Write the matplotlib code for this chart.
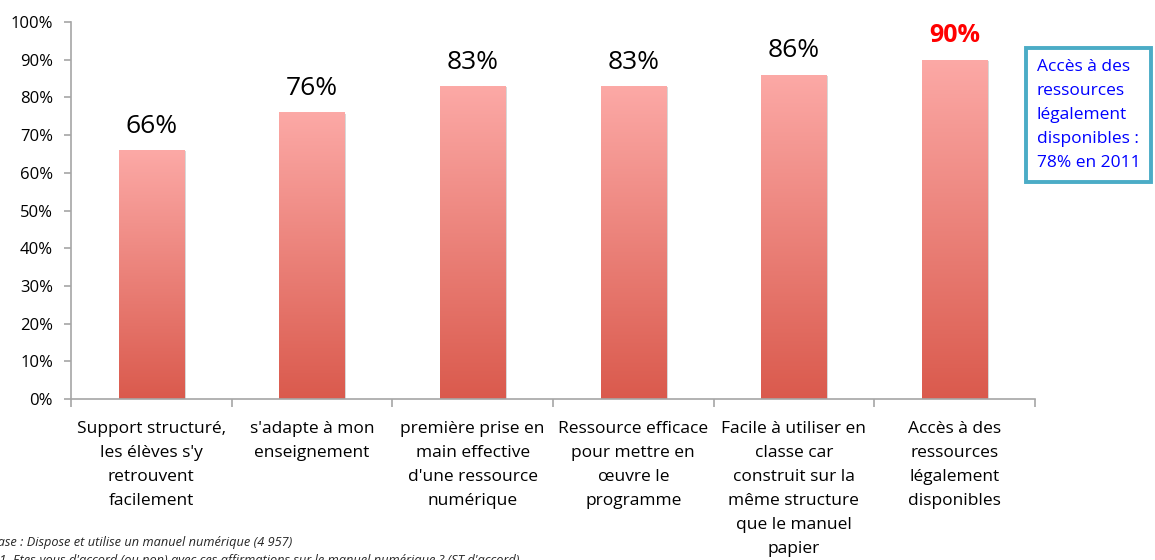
import matplotlib.pyplot as plt
import numpy as np
from matplotlib.colors import LinearSegmentedColormap

plt.rcParams['font.family'] = ['Open Sans', 'DejaVu Sans']

categories = ["Support structuré,\nles élèves s'y\nretrouvent\nfacilement",
              "s'adapte à mon\nenseignement",
              "première prise en\nmain effective\nd'une ressource\nnumérique",
              "Ressource efficace\npour mettre en\nœuvre le\nprogramme",
              "Facile à utiliser en\nclasse car\nconstruit sur la\nmême structure\nque le manuel\npapier",
              "Accès à des\nressources\nlégalement\ndisponibles"]
values = [66, 76, 83, 83, 86, 90]
yticks = [0, 10, 20, 30, 40, 50, 60, 70, 80, 90, 100]

fig = plt.figure(figsize=(11.55, 5.6), dpi=100)
ax = fig.add_axes([0.0615, 0.2875, 0.8345, 0.6732])

x = np.arange(len(values))
w = 0.405
cmap = LinearSegmentedColormap.from_list("grad", ["#da5a4d", "#fca9a6"])
grad = np.linspace(0, 1, 256).reshape(-1, 1)

for xi, v in zip(x, values):
    # light shadow
    ax.bar(xi + 0.012, v, width=w, bottom=-0.3, color="#d8d8d8", zorder=1)
    b = ax.bar(xi, v, width=w, color="none", zorder=2)[0]
    im = ax.imshow(grad, cmap=cmap, aspect="auto", origin="lower",
                   extent=(xi - w / 2, xi + w / 2, 0, v), zorder=2)
    im.set_clip_path(b)

for xi, v in zip(x, values):
    if xi == len(values) - 1:
        ax.text(xi, v + 3, f"{v}%", ha="center", va="bottom", fontsize=18,
                color="#ff0000", fontweight="bold")
    else:
        ax.text(xi, v + 3, f"{v}%", ha="center", va="bottom", fontsize=19,
                color="black")

ax.set_xlim(-0.5, len(values) - 0.5)
ax.set_ylim(0, 100)
ax.set_yticks(yticks)
ax.set_yticklabels([f"{t}%" for t in yticks], fontsize=12)
ax.set_xticks(x)
ax.set_xticklabels(categories, fontsize=12.5, linespacing=1.67, va="top")
ax.set_xticks(np.arange(-0.5, len(values)), minor=True)
ax.tick_params(axis="x", which="major", length=0, pad=16)
ax.tick_params(axis="x", which="minor", length=6, color="#a6a6a6", width=1.2)
ax.tick_params(axis="y", length=5, color="#a6a6a6", width=1.2, pad=8)

for s in ["top", "right"]:
    ax.spines[s].set_visible(False)
for s in ["left", "bottom"]:
    ax.spines[s].set_color("#a6a6a6")
    ax.spines[s].set_linewidth(1.2)

# annotation box
fig.text(0.8975, 0.895, "Accès à des\nressources\nlégalement\ndisponibles :\n78% en 2011",
         fontsize=12.5, color="#0000ff", va="top", ha="left", linespacing=1.68,
         bbox=dict(boxstyle="square,pad=0.62", facecolor="white",
                   edgecolor="#4bacc6", linewidth=2.8))

fig.text(-0.009, 0.02, "Base : Dispose et utilise un manuel numérique (4 957)",
         fontsize=9.2, style="italic", color="#262626", va="bottom")
fig.text(-0.009, -0.012,
         "Q1. Etes-vous d'accord (ou non) avec ces affirmations sur le manuel numérique ? (ST d'accord)",
         fontsize=9.2, style="italic", color="#262626", va="bottom")

fig.savefig("out.png", dpi=100)
